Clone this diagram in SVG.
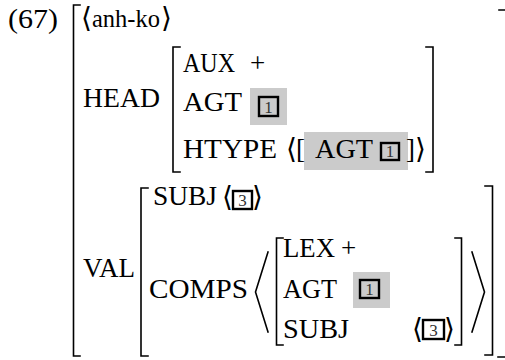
<svg xmlns="http://www.w3.org/2000/svg" width="505" height="360" viewBox="0 0 505 360">
  <style>
    .br { fill: none; stroke: #000; stroke-width: 1.6; stroke-linecap: square; }
    .hl { fill: #cbcbcb; }
    .tag { fill: none; stroke: #000; stroke-width: 2.4; }
    .ang { font-family: "DejaVu Sans", sans-serif; font-size: 28px; }
  </style>
  <rect width="505" height="360" fill="#fff"/>

  <!-- outer matrix brackets -->
  <path class="br" d="M80,5 H73.5 V356 H80"/>
  <path class="br" d="M499,10 H505 M498,357 H505"/>

  <!-- HEAD value brackets -->
  <path class="br" d="M180,47 H173 V172 H180"/>
  <path class="br" d="M426,47 H433 V172 H426"/>

  <!-- VAL value brackets and list delimiters -->
  <path class="br" d="M148,188 H141 V356 H148"/>
  <path class="br" d="M485,186 H492.5 V355 H485"/>
  <path class="br" d="M268,252 L255.5,292 L268,332"/>
  <path class="br" d="M472,252 L484.5,292 L472,332"/>

  <!-- complement description brackets -->
  <path class="br" d="M283,238 H276.5 V345 H283"/>
  <path class="br" d="M455,238 H461.5 V345 H455"/>

  <!-- shaded values -->
  <rect class="hl" x="250" y="88" width="37" height="37"/>
  <rect class="hl" x="304" y="132" width="104" height="38"/>
  <rect class="hl" x="353" y="272" width="37" height="36"/>

  <!-- tag boxes -->
  <rect class="tag" x="259" y="97" width="19" height="19"/>
  <rect class="tag" x="381" y="143" width="18" height="17"/>
  <rect class="tag" x="233" y="191" width="19" height="18"/>
  <rect class="tag" x="360" y="280" width="19" height="18"/>
  <rect class="tag" x="423" y="320" width="21" height="19"/>

  <g font-family="'Liberation Serif', 'DejaVu Serif', serif" font-size="27" fill="#000">
    <text x="8" y="28" textLength="50" lengthAdjust="spacingAndGlyphs">(67)</text>
    <text class="ang" x="81" y="27">⟨</text>
    <text x="92" y="27" font-size="24.5">anh-ko</text>
    <text class="ang" x="161" y="27">⟩</text>

    <text x="83" y="107" textLength="77" lengthAdjust="spacingAndGlyphs">HEAD</text>
    <text x="183" y="72" textLength="52" lengthAdjust="spacingAndGlyphs">AUX</text>
    <text x="250" y="72">+</text>
    <text x="183" y="111" textLength="59" lengthAdjust="spacingAndGlyphs">AGT</text>
    <text x="183" y="158" textLength="94" lengthAdjust="spacingAndGlyphs">HTYPE</text>
    <text class="ang" x="286" y="158">⟨</text>
    <text x="296" y="158">[</text>
    <text x="315" y="158" textLength="58" lengthAdjust="spacingAndGlyphs">AGT</text>
    <text x="406" y="158">]</text>
    <text class="ang" x="415" y="158">⟩</text>

    <text x="83" y="277" textLength="52" lengthAdjust="spacingAndGlyphs">VAL</text>
    <text x="153" y="205" textLength="64" lengthAdjust="spacingAndGlyphs">SUBJ</text>
    <text class="ang" x="222" y="206">⟨</text>
    <text class="ang" x="252" y="206">⟩</text>
    <text x="149" y="298" textLength="99" lengthAdjust="spacingAndGlyphs">COMPS</text>

    <text x="283" y="257" textLength="52" lengthAdjust="spacingAndGlyphs">LEX</text>
    <text x="341" y="257">+</text>
    <text x="283" y="298" textLength="54" lengthAdjust="spacingAndGlyphs">AGT</text>
    <text x="283" y="338" textLength="66" lengthAdjust="spacingAndGlyphs">SUBJ</text>
    <text class="ang" x="412" y="338">⟨</text>
    <text class="ang" x="444" y="338">⟩</text>
  </g>

  <!-- tag numbers -->
  <g font-family="'Liberation Serif', serif" font-size="17" fill="#333" text-anchor="middle">
    <text x="268.5" y="112.5">1</text>
    <text x="390" y="157">1</text>
    <text x="242.5" y="206">3</text>
    <text x="369.5" y="295">1</text>
    <text x="433.5" y="335.5">3</text>
  </g>
</svg>
